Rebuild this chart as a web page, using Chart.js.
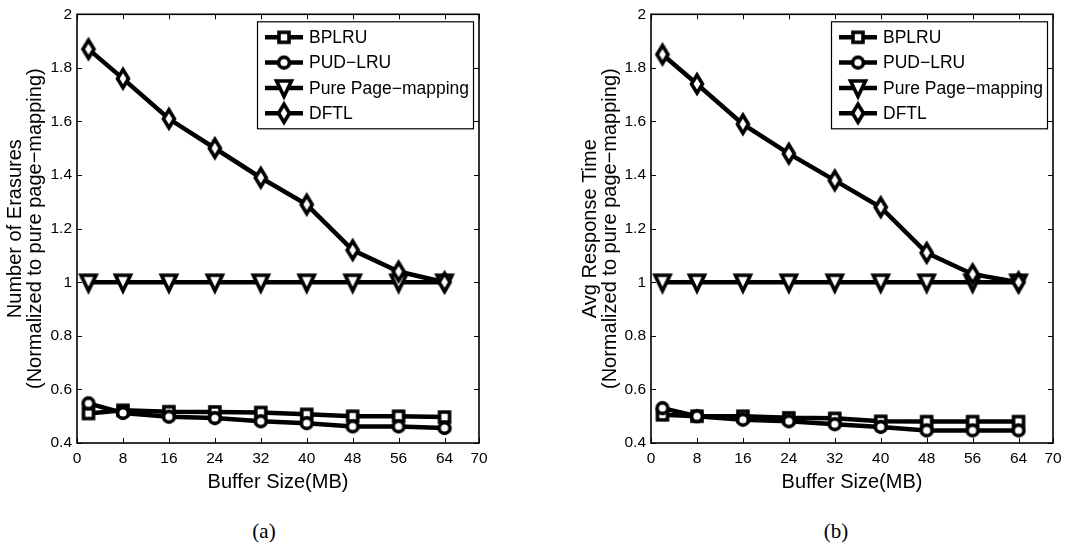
<!DOCTYPE html>
<html>
<head>
<meta charset="utf-8">
<script src="https://cdn.jsdelivr.net/npm/chart.js@4.4.1/dist/chart.umd.min.js"></script>
<style>
  html, body { margin: 0; padding: 0; background: #fff; }
  #wrap { position: relative; width: 1086px; height: 550px; overflow: hidden; }
  .panel { position: absolute; top: 0; width: 543px; height: 500px; }
  .cap { position: absolute; top: 519px; width: 80px; text-align: center;
         font-family: "Liberation Serif", "DejaVu Serif", serif; font-size: 21px; color: #000; }
</style>
</head>
<body>
<div id="wrap">
  <div class="panel" style="left:0"><canvas id="chartA" width="543" height="500"></canvas></div>
  <div class="panel" style="left:543px"><canvas id="chartB" width="543" height="500"></canvas></div>
  <div class="cap" style="left:224px">(a)</div>
  <div class="cap" style="left:796px">(b)</div>
</div>
<script>
// Buffer sizes (MB) on the x axis
const bufferSizes = [2, 8, 16, 24, 32, 40, 48, 56, 64];
const xTickValues = [0, 8, 16, 24, 32, 40, 48, 56, 64, 70];
const yTickValues = [0.4, 0.6, 0.8, 1.0, 1.2, 1.4, 1.6, 1.8, 2.0];
const seriesNames = ['BPLRU', 'PUD\u2212LRU', 'Pure Page\u2212mapping', 'DFTL'];

// (a) number of erasures, normalized to pure page-mapping
const erasuresBPLRU = [0.510, 0.522, 0.517, 0.516, 0.514, 0.507, 0.500, 0.500, 0.497];
const erasuresPUDLRU = [0.548, 0.512, 0.498, 0.493, 0.481, 0.474, 0.462, 0.462, 0.456];
const erasuresPure = [1, 1, 1, 1, 1, 1, 1, 1, 1];
const erasuresDFTL = [1.87, 1.76, 1.61, 1.50, 1.39, 1.29, 1.12, 1.04, 1.00];

// (b) average response time, normalized to pure page-mapping
const responseBPLRU = [0.505, 0.500, 0.500, 0.494, 0.492, 0.481, 0.480, 0.480, 0.480];
const responsePUDLRU = [0.530, 0.500, 0.487, 0.481, 0.470, 0.460, 0.447, 0.447, 0.447];
const responsePure = [1, 1, 1, 1, 1, 1, 1, 1, 1];
const responseDFTL = [1.85, 1.74, 1.59, 1.48, 1.38, 1.28, 1.11, 1.03, 1.00];

const FONT = '"Liberation Sans", Arial, Helvetica, sans-serif';

// Marker glyphs: white fill, heavy black edge
function markerCanvas(shape) {
  const c = document.createElement('canvas');
  c.width = 28; c.height = 28;
  const g = c.getContext('2d');
  const m = 14;
  g.lineWidth = 3.6;
  g.strokeStyle = '#000';
  g.fillStyle = '#fff';
  g.lineJoin = 'miter';
  g.beginPath();
  if (shape === 'square') {
    g.rect(m - 5, m - 5, 10, 10);
  } else if (shape === 'circle') {
    g.arc(m, m, 5.4, 0, Math.PI * 2);
  } else if (shape === 'triDown') {
    g.moveTo(m - 7.5, m - 7);
    g.lineTo(m + 7.5, m - 7);
    g.lineTo(m, m + 8.5);
    g.closePath();
  } else {
    g.moveTo(m, m - 9);
    g.lineTo(m + 5.5, m);
    g.lineTo(m, m + 9);
    g.lineTo(m - 5.5, m);
    g.closePath();
  }
  g.fill();
  g.stroke();
  return c;
}
const markers = [markerCanvas('square'), markerCanvas('circle'), markerCanvas('triDown'), markerCanvas('diamond')];

// Box frame with inward ticks on all four sides
const framePlugin = {
  id: 'frame',
  beforeDatasetsDraw(chart) {
    const { ctx, chartArea: a, scales } = chart;
    ctx.save();
    ctx.strokeStyle = '#000';
    ctx.lineWidth = 1;
    ctx.beginPath();
    const tl = 5;
    scales.x.ticks.forEach(t => {
      const px = Math.round(scales.x.getPixelForValue(t.value)) + 0.5;
      ctx.moveTo(px, a.bottom); ctx.lineTo(px, a.bottom - tl);
      ctx.moveTo(px, a.top); ctx.lineTo(px, a.top + tl);
    });
    scales.y.ticks.forEach(t => {
      const py = Math.round(scales.y.getPixelForValue(t.value)) + 0.5;
      ctx.moveTo(a.left, py); ctx.lineTo(a.left + tl, py);
      ctx.moveTo(a.right, py); ctx.lineTo(a.right - tl, py);
    });
    ctx.stroke();
    ctx.lineWidth = 1.6;
    ctx.strokeRect(a.left, a.top, a.right - a.left, a.bottom - a.top);
    ctx.restore();
  }
};

// Boxed legend in the upper right corner of the axes
const legendPlugin = {
  id: 'boxLegend',
  afterDraw(chart) {
    const { ctx, chartArea: a } = chart;
    const w = 216, h = 107;
    const left = a.right - 6 - w, top = a.top + 7;
    ctx.save();
    ctx.fillStyle = '#fff';
    ctx.fillRect(left, top, w, h);
    ctx.strokeStyle = '#000';
    ctx.lineWidth = 1.2;
    ctx.strokeRect(left + 0.5, top + 0.5, w, h);
    ctx.font = '17.5px ' + FONT;
    ctx.textBaseline = 'middle';
    ctx.textAlign = 'left';
    chart.data.datasets.forEach((ds, i) => {
      const y = top + 16 + i * 25.3;
      ctx.beginPath();
      ctx.lineWidth = 4.5;
      ctx.moveTo(left + 8, y);
      ctx.lineTo(left + 46, y);
      ctx.stroke();
      const mk = ds.pointStyle;
      ctx.drawImage(mk, left + 27 - mk.width / 2, y - mk.height / 2);
      ctx.fillStyle = '#000';
      ctx.fillText(ds.label, left + 52, y + 1);
    });
    ctx.restore();
  }
};

function makeChart(id, yTitle, values, plotLeft, padRight, yTitlePad) {
  const datasets = values.map((v, i) => ({
    label: seriesNames[i],
    data: bufferSizes.map((x, j) => ({ x: x, y: v[j] })),
    borderColor: '#000',
    borderWidth: 4.5,
    pointStyle: markers[i],
    pointRadius: 6,
    pointHoverRadius: 6,
    fill: false,
    tension: 0,
    order: values.length - 1 - i,
    clip: false
  }));
  return new Chart(document.getElementById(id), {
    type: 'line',
    data: { datasets },
    options: {
      responsive: false,
      animation: false,
      events: [],
      layout: { padding: { left: 0, top: 13, right: padRight, bottom: 0 } },
      plugins: { legend: { display: false }, tooltip: { enabled: false } },
      scales: {
        x: {
          type: 'linear', min: 0, max: 70,
          afterBuildTicks: s => { s.ticks = xTickValues.map(v => ({ value: v })); },
          afterFit: s => { s.height = 57; },
          grid: { display: false, drawTicks: false },
          border: { display: false },
          ticks: { color: '#000', font: { family: FONT, size: 15.5 }, padding: 6, maxRotation: 0, autoSkip: false,
                   callback: v => String(v) },
          title: { display: true, text: 'Buffer Size(MB)', color: '#000',
                   font: { family: FONT, size: 20, lineHeight: 1.2 }, padding: { top: 0, bottom: 6 } }
        },
        y: {
          type: 'linear', min: 0.4, max: 2,
          afterBuildTicks: s => { s.ticks = yTickValues.map(v => ({ value: v })); },
          afterFit: s => { s.width = plotLeft; },
          grid: { display: false, drawTicks: false },
          border: { display: false },
          ticks: { color: '#000', font: { family: FONT, size: 15.5 }, padding: 5, autoSkip: false,
                   callback: v => String(Number(v.toFixed(1))) },
          title: { display: true, text: yTitle, color: '#000',
                   font: { family: FONT, size: 20, lineHeight: 1.0 }, padding: { top: yTitlePad, bottom: 0 } }
        }
      }
    },
    plugins: [framePlugin, legendPlugin]
  });
}

makeChart('chartA', ['Number of Erasures', '(Normalized to pure page\u2212mapping)'],
  [erasuresBPLRU, erasuresPUDLRU, erasuresPure, erasuresDFTL], 77, 64, 5);
makeChart('chartB', ['Avg Response Time', '(Normalized to pure page\u2212mapping)'],
  [responseBPLRU, responsePUDLRU, responsePure, responseDFTL], 108, 33, 37);
</script>
</body>
</html>
